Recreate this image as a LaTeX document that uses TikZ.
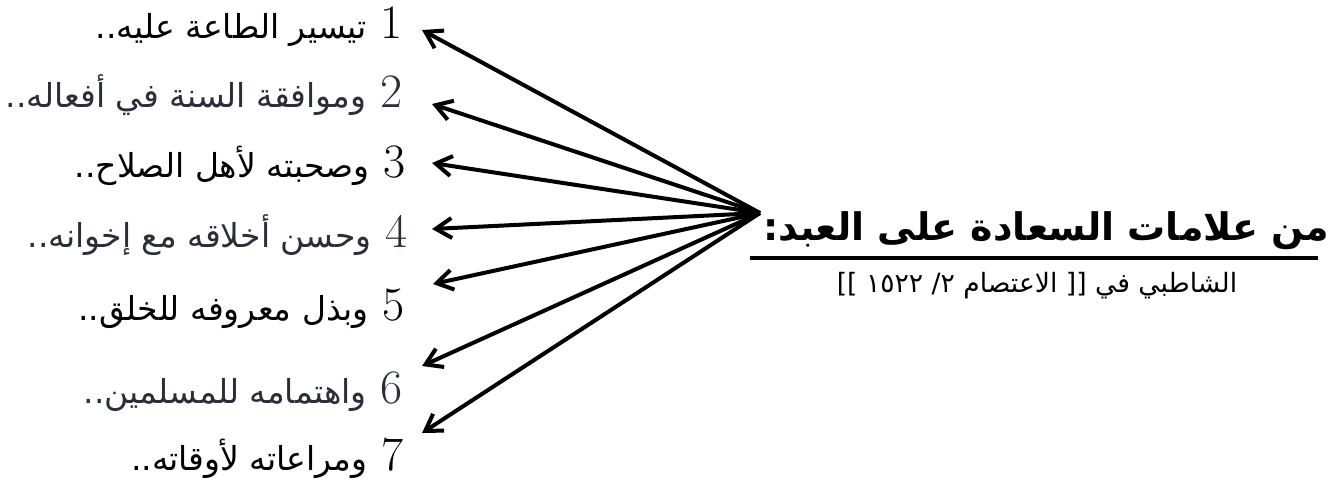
\documentclass[tikz,border=0pt]{standalone}
\usepackage{fontspec}
\usepackage{xcolor}
\usepackage{tikz}
\usetikzlibrary{arrows.meta, positioning}
\TeXXeTstate=1
\newfontfamily\arabicfont[Script=Arabic]{DejaVu Sans}
\definecolor{xamxanh}{RGB}{42,46,56}
\newcommand{\so}[1]{{\rmfamily\fontsize{24}{28}\selectfont #1}\hspace{7pt}}

\begin{document}
\begin{tikzpicture}[x=0.5pt, y=-0.5pt, >={Straight Barb[length=8pt,width=10pt]},
    muc/.style={anchor=base east, inner sep=0pt, font=\arabicfont\fontsize{16.5}{20}\selectfont},
    muc xam/.style={muc, text=xamxanh},
    muiten/.style={->, line width=2pt}]
    \useasboundingbox (0,0) rectangle (1337,488);

    % 1. Tiêu đề và nguồn
    \node[anchor=base east, inner sep=0pt, font=\arabicfont\bfseries\fontsize{19}{23}\selectfont]
        (tieude) at (1330,240) {\beginR من علامات السعادة على العبد:\endR};
    \draw[line width=2pt] (750,258) -- (1318,258);
    \node[anchor=base, inner sep=0pt, font=\arabicfont\fontsize{13.3}{16}\selectfont]
        (nguon) at (1037,292) {\beginR الشاطبي في [[ الاعتصام ٢/ ١٥٢٢ ]]\endR};

    % 2. Các dòng liệt kê
    \node[muc]     (m1) at (403,38)  {\beginR\so{1}تيسير الطاعة عليه..\endR};
    \node[muc xam] (m2) at (403,107) {\beginR\so{2}وموافقة السنة في أفعاله..\endR};
    \node[muc]     (m3) at (406,177) {\beginR\so{3}وصحبته لأهل الصلاح..\endR};
    \node[muc xam] (m4) at (408,247) {\beginR\so{4}وحسن أخلاقه مع إخوانه..\endR};
    \node[muc]     (m5) at (405,320) {\beginR\so{5}وبذل معروفه للخلق..\endR};
    \node[muc xam] (m6) at (403,403) {\beginR\so{6}واهتمامه للمسلمين..\endR};
    \node[muc]     (m7) at (404,470) {\beginR\so{7}ومراعاته لأوقاته..\endR};

    % 3. Các mũi tên tỏa ra từ tiêu đề
    \coordinate (goc) at (760,213);
    \foreach \i/\x/\y in {1/422/30, 2/432/104, 3/432/163, 4/432/229,
                          5/433/284, 6/422/366, 7/422/433}
        \coordinate (d\i) at (\x,\y);
    \foreach \i in {1,...,7}
        \draw[muiten] (goc) -- (d\i);
\end{tikzpicture}
\end{document}
